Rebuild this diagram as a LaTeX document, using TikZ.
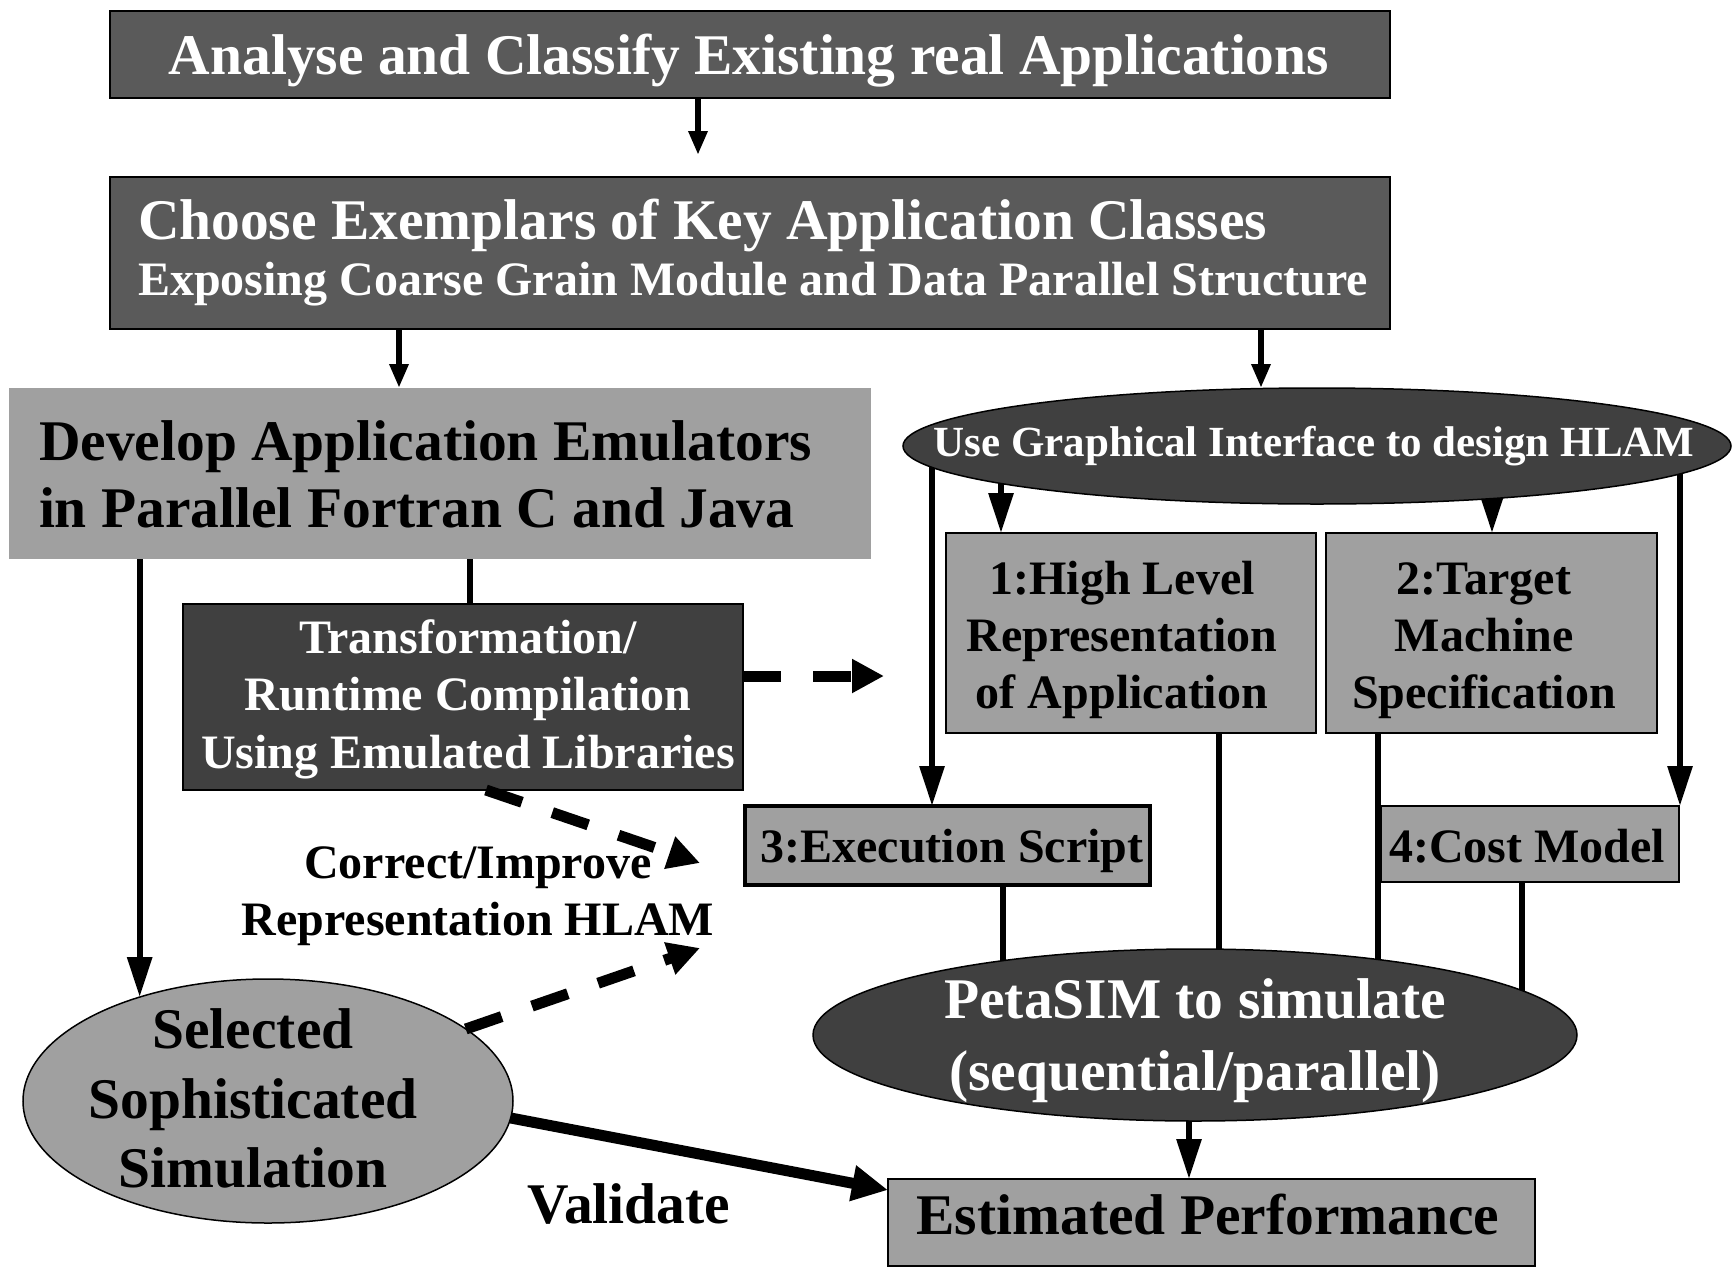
\documentclass[tikz,border=0pt]{standalone}
\usepackage{fontspec}
\setmainfont{Liberation Serif}
\usetikzlibrary{arrows.meta,shapes.geometric}
\pgfdeclarelayer{canvas}
\pgfdeclarelayer{wires}
\pgfsetlayers{canvas,wires,main}
\definecolor{boxdark}{RGB}{90,90,90}
\definecolor{nodedark}{RGB}{64,64,64}
\definecolor{boxlight}{RGB}{160,160,160}
\newcommand\bsize[1]{\fontsize{#1}{#1}\selectfont\bfseries}
\begin{document}
\begin{tikzpicture}[x=1pt,y=-1pt,
  box/.style={rectangle, draw=black, line width=2pt, inner sep=0pt, outer sep=0pt},
  oval/.style={ellipse, draw=black, line width=1.5pt, inner sep=0pt, outer sep=0pt},
  txt/.style={anchor=base, inner sep=0pt, outer sep=0pt},
  wtxt/.style={txt, text=white},
  huge/.style={font=\bsize{57.5}},
  mid/.style={font=\bsize{48}},
  small/.style={font=\bsize{43}},
  wire/.style={line width=6pt},
  arr/.style={wire, -{Triangle[length=40pt,width=24pt]}},
  arrs/.style={wire, -{Triangle[length=24pt,width=18pt]}},
  dasharr/.style={line width=11pt, dash pattern=on 38pt off 32pt, -{Triangle[length=32pt,width=32pt]}},
  boldarr/.style={line width=11pt, -{Triangle[length=36pt,width=34pt]}},
]
\begin{pgfonlayer}{canvas}
  \fill[white] (0,0) rectangle (1733,1267);
\end{pgfonlayer}
\useasboundingbox (0,0) rectangle (1733,1267);

% boxes and ovals
\node[box, fill=boxdark, minimum width=1279.5pt, minimum height=87pt] (analyse) at (750,54.5) {};
\node[box, fill=boxdark, minimum width=1279.5pt, minimum height=152pt] (choose) at (750,253) {};
\node[rectangle, fill=boxlight, inner sep=0pt, outer sep=0pt, minimum width=862pt, minimum height=171pt] (develop) at (440,473.5) {};
\node[oval, fill=nodedark, minimum width=828pt, minimum height=116pt] (gui) at (1317,446) {};
\node[box, fill=boxlight, minimum width=370pt, minimum height=200pt] (hlr) at (1131,633) {};
\node[box, fill=boxlight, minimum width=331pt, minimum height=200pt] (tms) at (1491.5,633) {};
\node[box, fill=nodedark, minimum width=560pt, minimum height=186pt] (trans) at (463,697) {};
\node[box, fill=boxlight, line width=4.5pt, minimum width=405pt, minimum height=79pt] (exec) at (947.5,845.5) {};
\node[box, fill=boxlight, line width=2.5pt, minimum width=298pt, minimum height=76pt] (cost) at (1530,844) {};
\node[oval, fill=nodedark, minimum width=764pt, minimum height=172pt] (peta) at (1195,1035) {};
\node[oval, fill=boxlight, minimum width=490pt, minimum height=244pt] (soph) at (268,1101) {};
\node[box, fill=boxlight, minimum width=647pt, minimum height=87pt] (estim) at (1211.5,1222.5) {};

% texts
\node[wtxt, huge] (analyseA) at (749,74) {Analyse and Classify Existing real Applications};
\node[wtxt, huge, anchor=base west] (chooseA) at (138,239) {Choose Exemplars of Key Application Classes};
\node[wtxt, mid, anchor=base west] (chooseB) at (138,295) {Exposing Coarse Grain Module and Data Parallel Structure};
\node[txt, huge, anchor=base west] (developA) at (39,460) {Develop Application Emulators};
\node[txt, huge, anchor=base west] (developB) at (39,527) {in Parallel Fortran C and Java};
\node[wtxt, small] (guiA) at (1314,456) {Use Graphical Interface to design HLAM};
\node[txt, mid] (hlrA) at (1122,594) {1:High Level};
\node[txt, mid] (hlrB) at (1122,651) {Representation};
\node[txt, mid] (hlrC) at (1122,708) {of Application};
\node[txt, mid] (tmsA) at (1484,594) {2:Target};
\node[txt, mid] (tmsB) at (1484,651) {Machine};
\node[txt, mid] (tmsC) at (1484,708) {Specification};
\node[wtxt, mid] (transA) at (468,653) {Transformation/};
\node[wtxt, mid] (transB) at (468,710) {Runtime Compilation};
\node[wtxt, mid] (transC) at (468,768) {Using Emulated Libraries};
\node[txt, mid] (execA) at (952,862) {3:Execution Script};
\node[txt, mid] (costA) at (1527,862) {4:Cost Model};
\node[txt, mid] (corrA) at (478,878) {Correct/Improve};
\node[txt, mid] (corrB) at (478,935) {Representation HLAM};
\node[wtxt, huge] (petaA) at (1195,1018) {PetaSIM to simulate};
\node[wtxt, huge] (petaB) at (1195,1090) {(sequential/parallel)};
\node[txt, huge] (sophA) at (253,1048) {Selected};
\node[txt, huge] (sophB) at (253,1118) {Sophisticated};
\node[txt, huge] (sophC) at (253,1187) {Simulation};
\node[txt, huge] (valid) at (629,1223) {Validate};
\node[txt, huge] (estimA) at (1208,1234) {Estimated Performance};

% free ends of the feedback arrows
\coordinate (fbA) at (700,863);
\coordinate (fbB) at (700,948);

% connectors
\draw[arrs, shorten >=22pt] (analyse.south -| 698,0) -- (choose.north -| 698,0);
\draw[arrs] (choose.south -| 399,0) -- (develop.north -| 399,0);
\draw[arrs] (choose.south -| 1261,0) -- (gui.north -| 1261,0);
\draw[wire] (develop.south -| 470,0) -- (trans.north -| 470,0);
\draw[arr] (develop.south -| soph.141.6) -- (soph.141.6);
\draw[dasharr, shorten >=62pt] (trans.east |- 0,676) -- (hlr.west |- 0,676);
\draw[dasharr] (trans.south -| 486,0) -- (fbA);
\draw[dasharr] (soph.20) -- (fbB);
\draw[boldarr] (soph.-4) -- (estim.west |- 0,1190);

\begin{pgfonlayer}{wires}
  \draw[arr] (gui.center -| 1001,0) -- (hlr.north -| 1001,0);
  \draw[arr] (gui.center -| 1492,0) -- (tms.north -| 1492,0);
  \draw[arr] (gui.center -| 932,0) -- (exec.north -| 932,0);
  \draw[arr] (gui.center -| 1680,0) -- (cost.north -| 1680,0);
  \draw[wire] (exec.south -| 1003,0) -- (peta.center -| 1003,0);
  \draw[wire] (hlr.south -| 1219,0) -- (peta.center -| 1219,0);
  \draw[wire] (tms.south -| 1378,0) -- (peta.center -| 1378,0);
  \draw[wire] (cost.south -| 1522,0) -- (peta.center -| 1522,0);
  \draw[arr] (peta.center -| 1189,0) -- (estim.north -| 1189,0);
\end{pgfonlayer}
\end{tikzpicture}
\end{document}
